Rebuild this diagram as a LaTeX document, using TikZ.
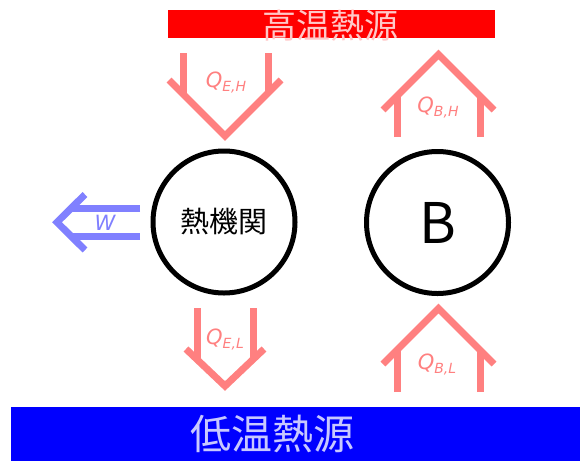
\documentclass[tikz,border=0pt]{standalone}
\usepackage{fontspec}
\setmainfont{Noto Sans CJK JP}
\newfontfamily\qfont{DejaVu Sans}
\usetikzlibrary{calc}
\definecolor{heatpink}{RGB}{255,128,128}
\definecolor{workblue}{RGB}{128,128,255}
\definecolor{hottext}{RGB}{255,200,200}
\definecolor{coldtext}{RGB}{200,200,255}
\newcommand{\flowname}[2]{{\qfont\itshape\fontsize{21}{21}\selectfont #1\raisebox{-4pt}{\fontsize{14}{14}\selectfont #2}}}

\begin{document}
\begin{tikzpicture}[x=1pt,y=-1pt,
    machine/.style={circle, draw, line width=5pt, minimum size=142pt, inner sep=0pt},
    heatflow/.style={heatpink, line width=7pt},
    workflow/.style={workblue, line width=7pt},
    flowlabel/.style={inner sep=0pt, text=heatpink}]
  \useasboundingbox (0,0) rectangle (580,461);

  % reservoirs
  \node[fill=red, minimum width=327pt, minimum height=28pt, inner sep=0pt] (hot) at (331.5,24) {};
  \node[text=hottext, font=\fontsize{34}{34}\selectfont, inner sep=0pt] (hotname) at (330,26) {高温熱源};
  \node[fill=blue, minimum width=569pt, minimum height=54pt, inner sep=0pt] (cold) at (295.5,434) {};
  \node[text=coldtext, font=\fontsize{41}{41}\selectfont, inner sep=0pt] (coldname) at (272,434) {低温熱源};

  % machines
  \node[machine, font=\fontsize{29}{29}\selectfont] (engine) at (224,222) {熱機関};
  \node[machine, font=\fontsize{56}{56}\selectfont] (pump) at (437.5,222.5) {B};

  % Q_{E,H}
  \draw[heatflow] (183,53) -- (183,94) (268,53) -- (268,94);
  \draw[heatflow, line join=miter] (169,80) -- (225,136) -- (281,80);
  \node[flowlabel] (qeh) at (226,83) {\flowname{Q}{E,H}};

  % Q_{E,L}
  \draw[heatflow] (197,308) -- (197,359) (253,308) -- (253,359);
  \draw[heatflow, line join=miter] (186,349) -- (225,386) -- (264,349);
  \node[flowlabel] (qel) at (225,340) {\flowname{Q}{E,L}};

  % Q_{B,H}
  \draw[heatflow] (397,137) -- (397,96) (480,137) -- (480,96);
  \draw[heatflow, line join=miter] (383,110) -- (438.5,54.5) -- (494,110);
  \node[flowlabel] (qbh) at (438,108) {\flowname{Q}{B,H}};

  % Q_{B,L}
  \draw[heatflow] (397,392) -- (397,350) (480,392) -- (480,350);
  \draw[heatflow, line join=miter] (383,364) -- (438.5,308.5) -- (494,364);
  \node[flowlabel] (qbl) at (437,365) {\flowname{Q}{B,L}};

  % W
  \draw[workflow] (140,208) -- (71.5,208) (140,236.5) -- (71.5,236.5);
  \draw[workflow, line join=miter] (85,194.5) -- (57,222.25) -- (85,250);
  \node[flowlabel, text=workblue] (work) at (105,223) {{\qfont\itshape\fontsize{21}{21}\selectfont W}};
\end{tikzpicture}
\end{document}
